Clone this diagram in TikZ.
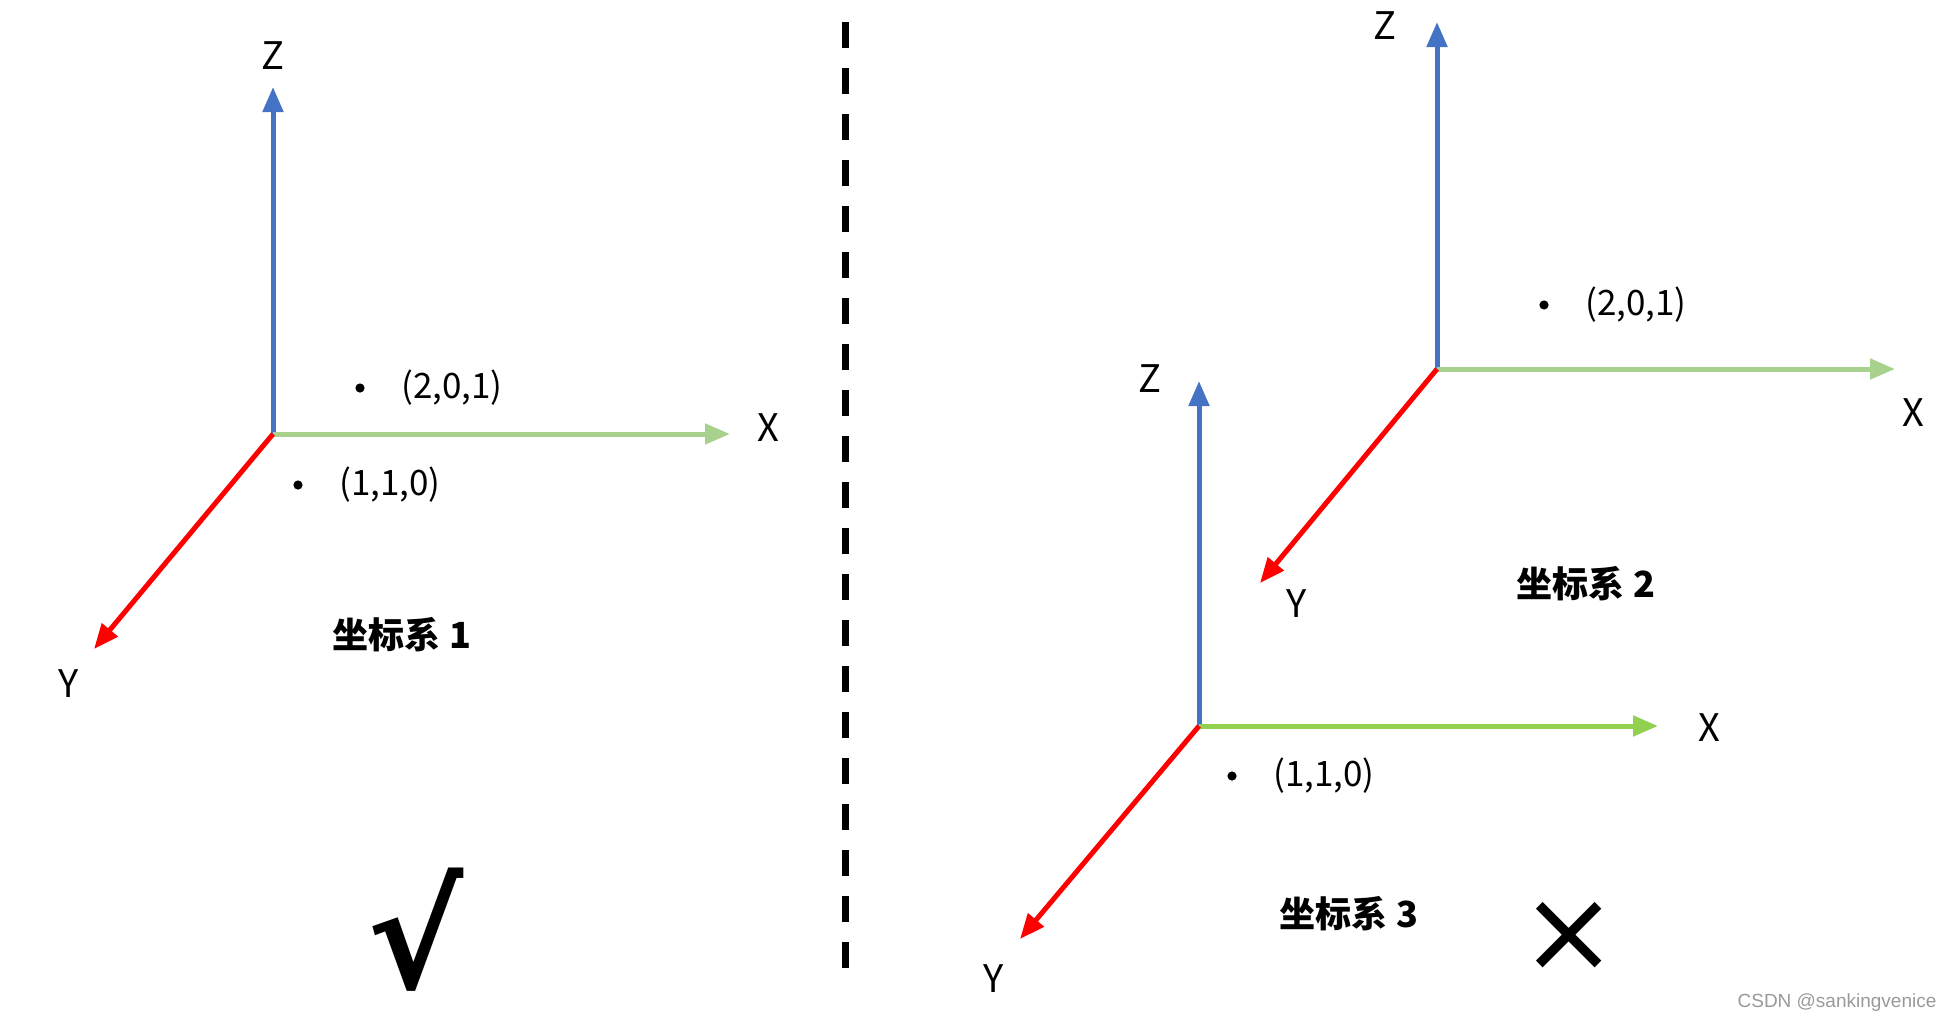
\documentclass[tikz,border=0pt]{standalone}
\usepackage{fontspec}
\setmainfont{Noto Sans CJK SC}
\newfontfamily\markfont{DejaVu Sans}
\newfontfamily\wmfont{Liberation Sans}
\usetikzlibrary{arrows.meta, positioning}
\definecolor{axblue}{RGB}{68,114,196}
\definecolor{axgreen}{RGB}{169,209,142}
\definecolor{axlime}{RGB}{146,208,80}
\definecolor{axred}{RGB}{255,0,0}

\begin{document}
\begin{tikzpicture}[
    x=0.5pt, y=-0.5pt,
    axis/.style={line width=2.5pt, -{Triangle[length=12.5pt, width=10pt]}},
    axlabel/.style={font=\fontsize{19}{22}\selectfont, inner sep=0pt},
    ptdot/.style={circle, fill=black, inner sep=0pt, minimum size=4.6pt},
    ptlabel/.style={font=\fontsize{17.5}{20}\selectfont, inner sep=0pt},
    syslabel/.style={font=\fontsize{18}{20}\selectfont\bfseries, inner sep=0pt}
  ]
  \useasboundingbox (0,0) rectangle (1946,1023);

  % coordinate system 1
  \coordinate (o1) at (273,434);
  \coordinate (z1) at (273,87);
  \coordinate (x1) at (730,434);
  \coordinate (y1) at (94,649);
  \draw[axis, axblue] (o1) -- (z1);
  \draw[axis, axgreen] (o1) -- (x1);
  \draw[axis, axred] (o1) -- (y1);
  \node[axlabel] (z1lab) at (273,56) {Z};
  \node[axlabel] (x1lab) at (768,428) {X};
  \node[axlabel] (y1lab) at (69,684) {Y};
  \node[ptdot] (p1a) at (360,388) {};
  \node[ptlabel, right=18pt of p1a] (p1alab) {(2,0,1)};
  \node[ptdot] (p1b) at (298,485) {};
  \node[ptlabel, right=18pt of p1b] (p1blab) {(1,1,0)};
  \node[syslabel] (sys1) at (402,635) {坐标系 1};
  \node[font=\fontsize{72}{72}\selectfont\markfont\bfseries, inner sep=0pt] (ok) at (416,930) {√};

  % separator
  \draw[line width=3.5pt, dash pattern=on 13pt off 10pt] (845,22) coordinate (sep1) -- (845,968) coordinate (sep2);

  % coordinate system 2
  \coordinate (o2) at (1437,369);
  \coordinate (z2) at (1437,22);
  \coordinate (x2) at (1895,369);
  \coordinate (y2) at (1260,583);
  \draw[axis, axblue] (o2) -- (z2);
  \draw[axis, axgreen] (o2) -- (x2);
  \draw[axis, axred] (o2) -- (y2);
  \node[axlabel] (z2lab) at (1385,26) {Z};
  \node[axlabel] (x2lab) at (1913,413) {X};
  \node[axlabel] (y2lab) at (1297,604) {Y};
  \node[ptdot] (p2) at (1544,305) {};
  \node[ptlabel, right=18pt of p2] (p2lab) {(2,0,1)};
  \node[syslabel] (sys2) at (1586,584) {坐标系 2};

  % coordinate system 3
  \coordinate (o3) at (1199,726);
  \coordinate (z3) at (1199,381);
  \coordinate (x3) at (1658,726);
  \coordinate (y3) at (1020,939);
  \draw[axis, axblue] (o3) -- (z3);
  \draw[axis, axlime] (o3) -- (x3);
  \draw[axis, axred] (o3) -- (y3);
  \node[axlabel] (z3lab) at (1150,379) {Z};
  \node[axlabel] (x3lab) at (1709,728) {X};
  \node[axlabel] (y3lab) at (994,979) {Y};
  \node[ptdot] (p3) at (1232,776) {};
  \node[ptlabel, right=18pt of p3] (p3lab) {(1,1,0)};
  \node[syslabel] (sys3) at (1349,914) {坐标系 3};
  \node[font=\fontsize{58}{58}\selectfont\markfont, inner sep=0pt] (no) at (1569,937) {×};

  \node[font=\fontsize{9.5}{10}\selectfont\wmfont, text=gray!80, inner sep=0pt] (wm) at (1837,1003) {CSDN @sankingvenice};
\end{tikzpicture}
\end{document}
